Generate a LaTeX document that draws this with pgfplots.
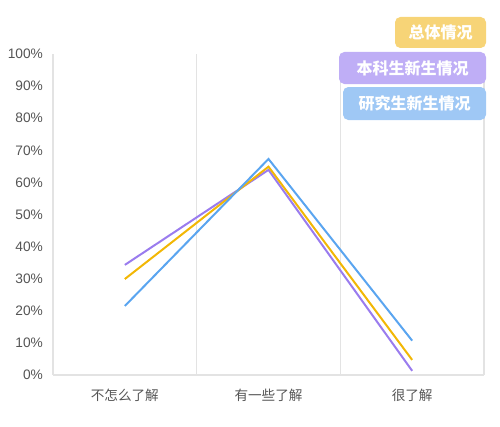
\documentclass[border=0pt]{standalone}
\usepackage{pgfplots}
\pgfplotsset{compat=1.18}
\usepackage{fontspec}
\setmainfont{Liberation Sans}
\newfontfamily\cjk{Noto Sans CJK SC}
\definecolor{cblue}{HTML}{5AA5F0}
\definecolor{cyellow}{HTML}{F2B705}
\definecolor{cpurple}{HTML}{9A7CEE}
\definecolor{lyellow}{HTML}{F7D477}
\definecolor{lpurple}{HTML}{BFAEF6}
\definecolor{lblue}{HTML}{9FC8F5}
\definecolor{gridc}{HTML}{E3E3E3}
\definecolor{tickc}{HTML}{555555}
\begin{document}
\begin{tikzpicture}[x=0.75pt,y=0.75pt]
\path[use as bounding box] (0,0) rectangle (500,426);
\begin{axis}[
  at={(53*0.75pt,51*0.75pt)}, anchor=south west,
  scale only axis, width=323.25pt, height=240.75pt,
  xmin=-0.5, xmax=2.5, ymin=0, ymax=100,
  xtick={0,1,2}, xticklabels={{\cjk 不怎么了解},{\cjk 有一些了解},{\cjk 很了解}},
  ytick={0,10,...,100}, yticklabel={\pgfmathprintnumber{\tick}\%},
  /pgf/number format/assume math mode=true,
  minor xtick={0.5,1.5,2.5}, xminorgrids, minor grid style={gridc, line width=0.8pt},
  major tick length=0pt, minor tick length=0pt,
  axis x line*=bottom, axis y line*=left,
  x axis line style={draw=gridc, line width=0.8pt, -},
  y axis line style={draw=gridc, line width=0.8pt, -},
  yticklabel style={font=\fontsize{10.3pt}{12pt}\selectfont, text=tickc, xshift=-4pt},
  xticklabel style={font=\fontsize{10.2pt}{12pt}\selectfont, text=tickc, yshift=-7pt},
  clip=false,
]
\addplot[cpurple, line width=1.5pt] coordinates {(0,34.3) (1,63.9) (2,1.3)};
\addplot[cyellow, line width=1.5pt] coordinates {(0,29.9) (1,64.9) (2,4.7)};
\addplot[cblue, line width=1.5pt] coordinates {(0,21.5) (1,67.3) (2,10.7)};
\end{axis}
\tikzset{lg/.style={rounded corners=4pt, inner sep=0pt, text=white, font=\cjk\bfseries\fontsize{12pt}{14pt}\selectfont}}
\fill[lyellow, rounded corners=4pt] (395,426-48) rectangle (486,426-17);
\node[lg] at (440.5,426-32.5) {总体情况};
\fill[lpurple, rounded corners=4pt] (339,426-84) rectangle (486,426-52);
\node[lg] at (412.5,426-68) {本科生新生情况};
\fill[lblue, rounded corners=4pt] (343,426-120) rectangle (486,426-87);
\node[lg] at (414.5,426-103.5) {研究生新生情况};
\end{tikzpicture}
\end{document}
